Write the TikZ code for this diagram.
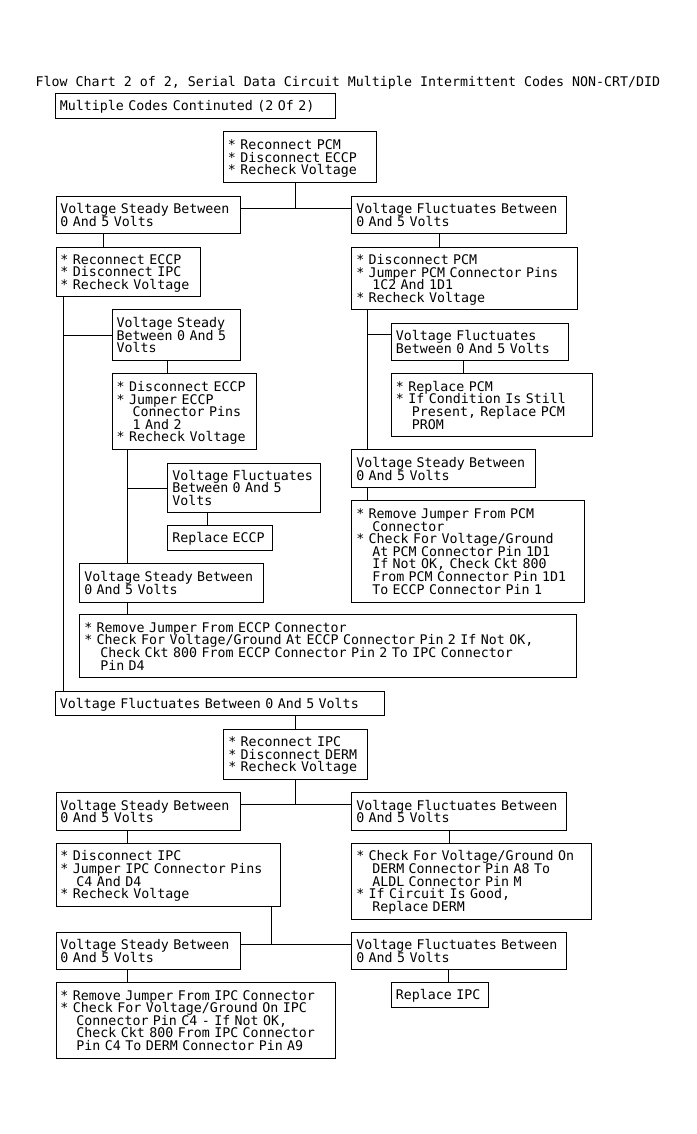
\documentclass[tikz,border=0pt]{standalone}
\usepackage{fontspec}
\setmonofont{DejaVu Sans Mono}
\newcommand\mfont{\ttfamily\fontsize{13.3}{12.6}\selectfont\lineskiplimit=-100pt\relax}
\newcommand\mystrut{\rule[-3pt]{0pt}{16pt}}
\newcommand\tailstrut{\rule[-3pt]{0pt}{3pt}}
\newcommand\ind{\phantom{**}}
\newcommand\li[1]{\mbox{#1}}
\tikzset{
  box/.style={draw, line width=0.9pt, anchor=north west, align=left,
    inner xsep=4.5pt, inner ysep=0pt, font=\mfont,
    execute at begin node=\mystrut, execute at end node=\tailstrut},
  conn/.style={line width=0.9pt}
}
\newcommand\bx[6]{%
  \pgfmathsetmacro\bxw{#4-#2-9}%
  \pgfmathsetmacro\bxh{#5-#3}%
  \node[box, text width=\bxw pt, minimum height=\bxh pt] (#1) at (#2,#3) {#6};}
\begin{document}
\begin{tikzpicture}[x=1pt,y=-1pt]
\path[fill=white] (0,0) rectangle (696,1134);
\useasboundingbox (0,0) rectangle (696,1134);
\node[anchor=base west, font=\mfont, inner sep=0pt] (title) at (35.5,86.3)
  {Flow Chart 2 of 2, Serial Data Circuit Multiple Intermittent Codes NON-CRT/DID};
\bx{b0}{55}{93}{335}{118}{\li{Multiple Codes Continuted (2 Of 2)}}
\bx{b1}{223}{131.5}{375.5}{182}{\li{* Reconnect PCM}\\\li{* Disconnect ECCP}\\\li{* Recheck Voltage}}
\bx{b2}{55.5}{196}{240}{233}{\li{Voltage Steady Between}\\\li{0 And 5 Volts}}
\bx{b3}{351.3}{196}{566}{233}{\li{Voltage Fluctuates Between}\\\li{0 And 5 Volts}}
\bx{b4}{55.5}{246.5}{200}{296}{\li{* Reconnect ECCP}\\\li{* Disconnect IPC}\\\li{* Recheck Voltage}}
\bx{b5}{351.3}{246.5}{576.5}{309.3}{\li{* Disconnect PCM}\\\li{* Jumper PCM Connector Pins}\\\li{\ind 1C2 And 1D1}\\\li{* Recheck Voltage}}
\bx{b6}{111.7}{309.3}{240}{360.3}{\li{Voltage Steady}\\\li{Between 0 And 5}\\\li{Volts}}
\bx{b7}{111.7}{373.3}{256}{449.3}{\li{* Disconnect ECCP}\\\li{* Jumper ECCP}\\\li{\ind Connector Pins}\\\li{\ind 1 And 2}\\\li{* Recheck Voltage}}
\bx{b8}{167.3}{462.7}{320}{512.3}{\li{Voltage Fluctuates}\\\li{Between 0 And 5}\\\li{Volts}}
\bx{b9}{167.3}{525}{272}{550}{\li{Replace ECCP}}
\bx{b10}{79.3}{563.3}{262.7}{601.7}{\li{Voltage Steady Between}\\\li{0 And 5 Volts}}
\bx{b11}{79.3}{614.3}{576}{677}{\li{* Remove Jumper From ECCP Connector}\\\li{* Check For Voltage/Ground At ECCP Connector Pin 2 If Not OK,}\\\li{\ind Check Ckt 800 From ECCP Connector Pin 2 To IPC Connector}\\\li{\ind Pin D4}}
\bx{b12}{351.3}{449.3}{535.3}{487.3}{\li{Voltage Steady Between}\\\li{0 And 5 Volts}}
\bx{b13}{391}{322.7}{568}{360.3}{\li{Voltage Fluctuates}\\\li{Between 0 And 5 Volts}}
\bx{b14}{391}{373.3}{592}{436}{\li{* Replace PCM}\\\li{* If Condition Is Still}\\\li{\ind Present, Replace PCM}\\\li{\ind PROM}}
\bx{b15}{351.3}{500}{584.3}{601.7}{\li{* Remove Jumper From PCM}\\\li{\ind Connector}\\\li{* Check For Voltage/Ground}\\\li{\ind At PCM Connector Pin 1D1}\\\li{\ind If Not OK, Check Ckt 800}\\\li{\ind From PCM Connector Pin 1D1}\\\li{\ind To ECCP Connector Pin 1}}
\bx{b16}{55}{690.5}{384}{715}{\li{Voltage Fluctuates Between 0 And 5 Volts}}
\bx{b17}{223.3}{728.5}{367}{779.3}{\li{* Reconnect IPC}\\\li{* Disconnect DERM}\\\li{* Recheck Voltage}}
\bx{b18}{55.5}{792.3}{240}{830}{\li{Voltage Steady Between}\\\li{0 And 5 Volts}}
\bx{b19}{351.3}{792.3}{566}{830}{\li{Voltage Fluctuates Between}\\\li{0 And 5 Volts}}
\bx{b20}{55.5}{842.7}{280}{906}{\li{* Disconnect IPC}\\\li{* Jumper IPC Connector Pins}\\\li{\ind C4 And D4}\\\li{* Recheck Voltage}}
\bx{b21}{351.3}{842.7}{591}{918.5}{\li{* Check For Voltage/Ground On}\\\li{\ind DERM Connector Pin A8 To}\\\li{\ind ALDL Connector Pin M}\\\li{* If Circuit Is Good,}\\\li{\ind Replace DERM}}
\bx{b22}{55.5}{931.7}{240}{969}{\li{Voltage Steady Between}\\\li{0 And 5 Volts}}
\bx{b23}{351.3}{931.7}{566}{969}{\li{Voltage Fluctuates Between}\\\li{0 And 5 Volts}}
\bx{b24}{55.5}{982}{335}{1057.5}{\li{* Remove Jumper From IPC Connector}\\\li{* Check For Voltage/Ground On IPC}\\\li{\ind Connector Pin C4 - If Not OK,}\\\li{\ind Check Ckt 800 From IPC Connector}\\\li{\ind Pin C4 To DERM Connector Pin A9}}
\bx{b25}{391}{982}{488}{1006.5}{\li{Replace IPC}}
% top split
\coordinate (h1) at ([yshift=-12.3pt]b2.north east);
\draw[conn] (h1) -- ([yshift=-12.3pt]b3.north west);
\coordinate (v1) at ([xshift=72.3pt]b1.south west);
\draw[conn] (v1) -- (v1 |- h1);
\draw[conn] ([xshift=47.8pt]b2.south west) -- ([xshift=47.8pt]b4.north west);
\draw[conn] ([xshift=88pt]b3.south west) -- ([xshift=88pt]b5.north west);
% left trunk
\coordinate (t1) at ([xshift=7.8pt]b4.south west);
\draw[conn] (t1) -- (t1 |- b16.north);
\draw[conn] (t1 |- b6.west) -- (b6.west);
\draw[conn] ([xshift=55.6pt]b6.south west) -- ([xshift=55.6pt]b7.north west);
\coordinate (t3) at ([xshift=15.6pt]b7.south west);
\draw[conn] (t3) -- (t3 |- b10.north);
\draw[conn] (t3 |- b8.west) -- (b8.west);
\draw[conn] ([xshift=40pt]b8.south west) -- ([xshift=40pt]b9.north west);
\draw[conn] ([xshift=48pt]b10.south west) -- ([xshift=48pt]b11.north west);
% right trunk
\coordinate (t2) at ([xshift=16pt]b5.south west);
\draw[conn] (t2) -- (t2 |- b12.north);
\coordinate (b13in) at ([yshift=-11.6pt]b13.north west);
\draw[conn] (t2 |- b13in) -- (b13in);
\draw[conn] ([xshift=72.3pt]b13.south west) -- ([xshift=72.3pt]b14.north west);
\draw[conn] ([xshift=16pt]b12.south west) -- ([xshift=16pt]b15.north west);
% lower part
\draw[conn] ([xshift=240.7pt]b16.south west) -- ([xshift=72.4pt]b17.north west);
\coordinate (h2) at ([yshift=-11.7pt]b18.north east);
\draw[conn] (h2) -- ([yshift=-11.7pt]b19.north west);
\coordinate (v2) at ([xshift=72.4pt]b17.south west);
\draw[conn] (v2) -- (v2 |- h2);
\draw[conn] ([xshift=71.8pt]b18.south west) -- ([xshift=71.8pt]b20.north west);
\draw[conn] ([xshift=97.7pt]b19.south west) -- ([xshift=97.7pt]b21.north west);
\coordinate (h3) at ([yshift=-12.6pt]b22.north east);
\draw[conn] (h3) -- ([yshift=-12.6pt]b23.north west);
\coordinate (v3) at ([xshift=215.8pt]b20.south west);
\draw[conn] (v3) -- (v3 |- h3);
\draw[conn] ([xshift=71.8pt]b22.south west) -- ([xshift=71.8pt]b24.north west);
\draw[conn] ([xshift=96.7pt]b23.south west) -- ([xshift=57pt]b25.north west);
\end{tikzpicture}
\end{document}
